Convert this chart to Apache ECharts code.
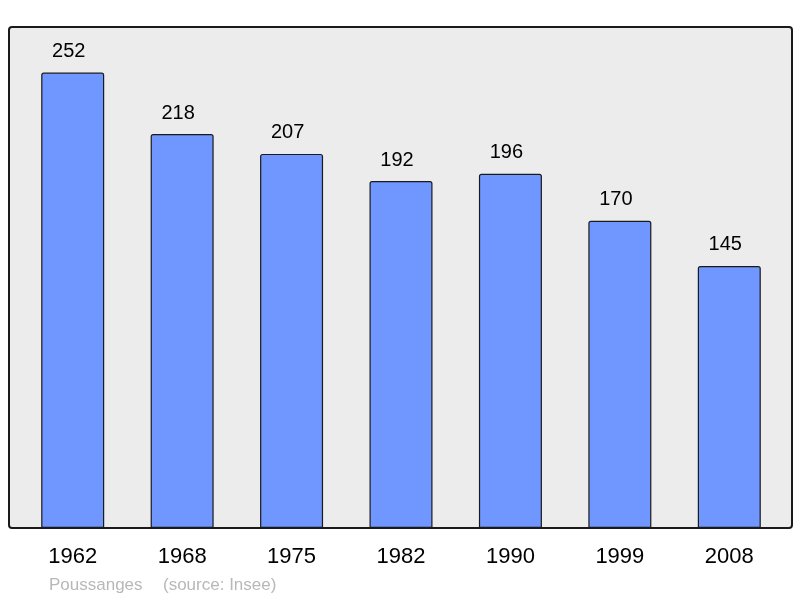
<!DOCTYPE html>
<html lang="fr">
<head>
    <meta charset="UTF-8">
    <title>Poussanges</title>
    <script src="https://cdn.jsdelivr.net/npm/echarts@6/dist/echarts.min.js"></script>
    <style>
        html, body {
            margin: 0;
            height: 100%;
            background: #fff;
        }
    </style>
</head>
<body>
<div id="main" style="width: 800px;height: 598px"></div>
</body>
</html>
<script>
    // données
    var years = ['1962', '1968', '1975', '1982', '1990', '1999', '2008'];
    var population = [252, 218, 207, 192, 196, 170, 145];
    var commune = 'Poussanges';
    var source = '(source: Insee)';

    var myChart = echarts.init(document.getElementById('main'));

    var option = {
        animation: false,
        textStyle: {fontFamily: 'Liberation Sans'},
        grid: {left: 18, right: 16, top: 27, bottom: 70},
        graphic: [
            {
                type: 'rect',
                shape: {x: 9, y: 27, width: 783, height: 501, r: 3},
                style: {fill: '#ececec', stroke: '#1a1a1a', lineWidth: 2},
                z: -10
            },
            {
                type: 'text',
                left: 49,
                top: 577,
                style: {text: commune, fill: '#b8b8b8', font: '17px "Liberation Sans"'}
            },
            {
                type: 'text',
                left: 163,
                top: 577,
                style: {text: source, fill: '#b8b8b8', font: '17px "Liberation Sans"'}
            }
        ],
        xAxis: {
            type: 'category',
            data: years,
            axisLine: {show: false},
            axisTick: {show: false},
            axisLabel: {color: '#000', fontSize: 22, margin: 18}
        },
        yAxis: {
            type: 'value',
            min: 0,
            max: 277.2,
            show: false,
            splitLine: {show: false}
        },
        series: [
            {
                type: 'bar',
                data: population,
                barWidth: 63,
                itemStyle: {
                    color: '#7097ff',
                    borderColor: '#1a1a1a',
                    borderWidth: 1.2,
                    borderRadius: [2, 2, 0, 0]
                },
                label: {
                    show: true,
                    position: 'top',
                    distance: 11,
                    offset: [-4, 0],
                    color: '#000',
                    fontSize: 20
                }
            }
        ]
    };

    myChart.setOption(option);
</script>
